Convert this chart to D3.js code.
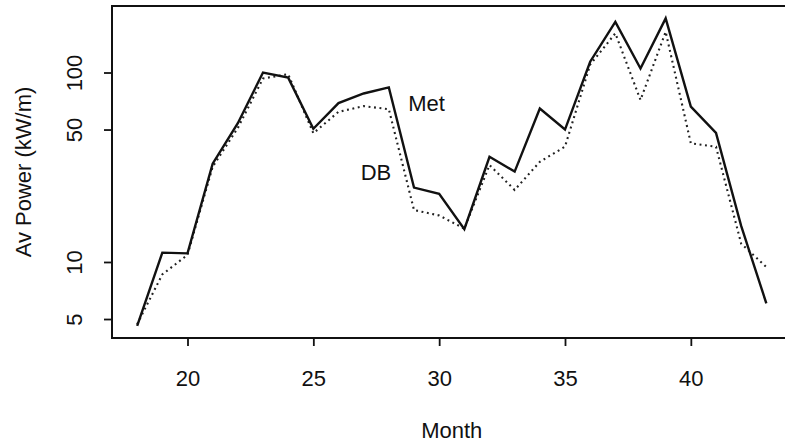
<!DOCTYPE html>
<html>
<head>
<meta charset="utf-8">
<script src="https://cdn.jsdelivr.net/npm/d3@7"></script>
<style>
  html, body { margin: 0; padding: 0; background: #fff; }
  svg { display: block; }
  text { font-family: "Liberation Sans", Arial, Helvetica, sans-serif; fill: #111; }
</style>
</head>
<body>
<svg id="chart" width="785" height="446"></svg>
<script>
// ---- data ----
const months = [18,19,20,21,22,23,24,25,26,27,28,29,30,31,32,33,34,35,36,37,38,39,40,41,42,43];
const metValues = [4.6,11.2,11.1,33,54,100,94,50.5,69,77.5,83.5,24.7,22.9,14.9,35.9,30,64.5,50,114,185,105,193,66,48,15.5,6.05];
const dbValues  = [4.7,8.6,10.9,31.8,51,93,98,47.8,62,66.5,64,18.8,17.6,15,32.5,24,33.8,40.6,110,161,71.6,164,42.3,40.6,12.5,9.4];
const xTicks = [20,25,30,35,40];
const yTicks = [5,10,50,100];
const seriesNames = ["Met", "DB"];
const xLimits = [17, 44];
const yLimits = [3.97, 224.4];

// ---- layout ----
const svg = d3.select("#chart");
const L = 112, R = 791.5, T = 6, B = 338;

const x = d3.scaleLinear().domain(xLimits).range([L, R]);
const y = d3.scaleLog().domain(yLimits).range([B, T]);

const FONT = "22px";

// box
svg.append("rect")
  .attr("x", L).attr("y", T).attr("width", R - L).attr("height", B - T)
  .attr("fill", "none").attr("stroke", "#111").attr("stroke-width", 2);

// x axis
const gx = svg.append("g").attr("transform", `translate(0,${B})`)
  .call(d3.axisBottom(x).tickValues(xTicks).tickSize(8).tickPadding(24).tickFormat(d3.format("d")));
gx.select(".domain").remove();
gx.selectAll(".tick line").attr("stroke", "#111").attr("stroke-width", 1.8);
gx.selectAll(".tick text").style("font-size", FONT).attr("fill", "#111");

// y axis
const gy = svg.append("g").attr("transform", `translate(${L},0)`)
  .call(d3.axisLeft(y).tickValues(yTicks).tickSize(8).tickFormat(d3.format("d")));
gy.select(".domain").remove();
gy.selectAll(".tick line").attr("stroke", "#111").attr("stroke-width", 1.8);
gy.selectAll(".tick text")
  .style("font-size", FONT).attr("fill", "#111")
  .attr("x", null).attr("dy", null)
  .attr("text-anchor", "middle")
  .attr("transform", `translate(${82 - L},0) rotate(-90)`);

// axis titles
svg.append("text")
  .attr("x", (L + R) / 2).attr("y", 438)
  .attr("text-anchor", "middle").style("font-size", FONT)
  .text("Month");
svg.append("text")
  .attr("text-anchor", "middle").style("font-size", FONT)
  .attr("transform", `translate(31,${(T + B) / 2}) rotate(-90)`)
  .text("Av Power (kW/m)");

// lines
const line = d3.line().x((d, i) => x(months[i])).y(d => y(d));

svg.append("path").datum(dbValues)
  .attr("d", line).attr("fill", "none")
  .attr("stroke", "#222").attr("stroke-width", 2.1)
  .attr("stroke-dasharray", "1.9,3.6").attr("stroke-linecap", "butt");

svg.append("path").datum(metValues)
  .attr("d", line).attr("fill", "none")
  .attr("stroke", "#111").attr("stroke-width", 2.4)
  .attr("stroke-linejoin", "miter");

// series labels
svg.append("text").attr("x", 426.5).attr("y", 110.5)
  .attr("text-anchor", "middle").style("font-size", FONT).text(seriesNames[0]);
svg.append("text").attr("x", 376).attr("y", 180)
  .attr("text-anchor", "middle").style("font-size", FONT).text(seriesNames[1]);
</script>
</body>
</html>
